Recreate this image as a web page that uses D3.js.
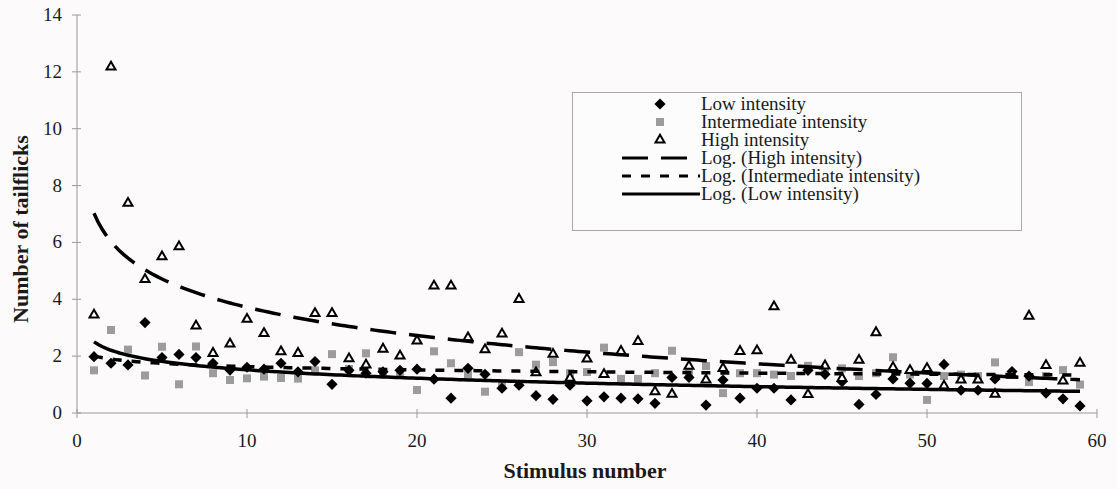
<!DOCTYPE html>
<html lang="en">

<head>
  <meta charset="UTF-8">
  <title>Tailflicks per stimulus</title>
  <script src="https://d3js.org/d3.v7.min.js"></script>
  <style>
    body {
      margin: 0;
      background: #fcfafa;
    }
  </style>
</head>

<body>
  <svg id="chart" width="1117" height="489" font-family="'Liberation Serif', 'Times New Roman', Tinos, 'DejaVu Serif', serif"></svg>

  <script>
    // stimulus numbers 1..59
    const stimulus = d3.range(1, 60);

    const lowIntensity = [
      1.98, 1.75, 1.69, 3.18, 1.95, 2.06, 1.95, 1.75, 1.51, 1.61,
      1.54, 1.75, 1.45, 1.81, 1.01, 1.5, 1.40, 1.45, 1.5, 1.54,
      1.19, 0.52, 1.57, 1.36, 0.87, 0.98, 0.61, 0.48, 0.98, 0.43,
      0.57, 0.52, 0.5, 0.34, 1.25, 1.25, 0.28, 1.16, 0.52, 0.87,
      0.87, 0.46, 1.5, 1.36, 1.1, 0.3, 0.65, 1.2, 1.05, 1.04,
      1.71, 0.8, 0.8, 1.2, 1.46, 1.3, 0.7, 0.5, 0.25
    ];

    const intermediateIntensity = [
      1.5, 2.92, 2.23, 1.32, 2.33, 1.01, 2.34, 1.4, 1.16, 1.22,
      1.28, 1.23, 1.21, 1.5, 2.07, 1.55, 2.1, 1.4, 1.4, 0.81,
      2.17, 1.75, 1.35, 0.75, 0.96, 2.14, 1.7, 1.79, 1.4, 1.44,
      2.3, 1.2, 1.2, 1.4, 2.19, 1.45, 1.65, 0.7, 1.4, 1.4,
      1.35, 1.3, 1.66, 1.55, 1.57, 1.3, 1.4, 1.96, 1.35, 0.46,
      1.3, 1.35, 1.3, 1.78, 1.35, 1.09, 1.3, 1.51, 1.0
    ];

    const highIntensity = [
      3.45, 12.17, 7.38, 4.7, 5.5, 5.85, 3.06, 2.1, 2.43, 3.3,
      2.8, 2.16, 2.1, 3.5, 3.5, 1.91, 1.69, 2.25, 2.01, 2.54,
      4.47, 4.47, 2.65, 2.23, 2.78, 4.0, 1.42, 2.07, 1.23, 1.9,
      1.36, 2.17, 2.52, 0.75, 0.66, 1.65, 1.16, 1.57, 2.17, 2.19,
      3.74, 1.86, 0.65, 1.66, 1.22, 1.86, 2.83, 1.6, 1.5, 1.57,
      0.95, 1.16, 1.16, 0.66, 1.33, 3.41, 1.67, 1.13, 1.75
    ];

    const xTicks = [0, 10, 20, 30, 40, 50, 60];
    const yTicks = [0, 2, 4, 6, 8, 10, 12, 14];

    const legendLabels = [
      "Low intensity",
      "Intermediate intensity",
      "High intensity",
      "Log. (High intensity)",
      "Log. (Intermediate intensity)",
      "Log. (Low intensity)"
    ];

    const svg = d3.select("#chart");

    const x = d3.scaleLinear().domain([0, 60]).range([77, 1097]);
    const y = d3.scaleLinear().domain([0, 14]).range([413, 15]);

    // excel style logarithmic trendline: y = a*ln(x) + b
    function logFit(xs, ys) {
      const lx = xs.map(v => Math.log(v));
      const mx = d3.mean(lx);
      const my = d3.mean(ys);
      let sxy = 0, sxx = 0;
      lx.forEach((v, i) => {
        sxy += (v - mx) * (ys[i] - my);
        sxx += (v - mx) * (v - mx);
      });
      const a = sxy / sxx;
      return { a: a, b: my - a * mx };
    }

    // axes
    const axisColor = "#9a9a9a";
    const textColor = "#1a1a1a";

    const yAxis = svg.append("g");
    yAxis.append("line")
      .attr("x1", x(0)).attr("x2", x(0))
      .attr("y1", y(0)).attr("y2", y(14))
      .attr("stroke", axisColor);
    yAxis.selectAll(".ytick")
      .data(yTicks)
      .enter()
      .append("line")
      .attr("x1", x(0) - 5).attr("x2", x(0) + 4)
      .attr("y1", d => y(d)).attr("y2", d => y(d))
      .attr("stroke", axisColor);
    yAxis.selectAll(".ylabel")
      .data(yTicks)
      .enter()
      .append("text")
      .attr("x", 62)
      .attr("y", d => y(d) + 6)
      .attr("text-anchor", "end")
      .attr("font-size", 19)
      .attr("fill", textColor)
      .text(d => d);

    const xAxis = svg.append("g");
    xAxis.append("line")
      .attr("x1", x(0)).attr("x2", x(60))
      .attr("y1", y(0)).attr("y2", y(0))
      .attr("stroke", axisColor);
    xAxis.selectAll(".xtick")
      .data(xTicks)
      .enter()
      .append("line")
      .attr("x1", d => x(d)).attr("x2", d => x(d))
      .attr("y1", y(0) - 4).attr("y2", y(0) + 5)
      .attr("stroke", axisColor);
    xAxis.selectAll(".xlabel")
      .data(xTicks)
      .enter()
      .append("text")
      .attr("x", d => x(d))
      .attr("y", 447)
      .attr("text-anchor", "middle")
      .attr("font-size", 19)
      .attr("fill", textColor)
      .text(d => d);

    svg.append("text")
      .attr("x", x(30) - 2)
      .attr("y", 478)
      .attr("text-anchor", "middle")
      .attr("font-size", 22)
      .attr("font-weight", "bold")
      .attr("fill", textColor)
      .text("Stimulus number");

    svg.append("text")
      .attr("transform", "translate(28,229) rotate(-90)")
      .attr("text-anchor", "middle")
      .attr("font-size", 22)
      .attr("font-weight", "bold")
      .attr("fill", textColor)
      .text("Number of tailflicks");

    // markers
    const diamond = d3.symbol().type(d3.symbolDiamond2).size(80);
    const triangle = d3.symbol().type(d3.symbolTriangle2).size(58);

    function drawLow(g, cx, cy) {
      g.append("path")
        .attr("d", diamond())
        .attr("transform", `translate(${cx},${cy})`)
        .attr("fill", "#000");
    }

    function drawIntermediate(g, cx, cy) {
      g.append("rect")
        .attr("x", cx - 4).attr("y", cy - 4)
        .attr("width", 8).attr("height", 8)
        .attr("fill", "#9c9c9c");
    }

    function drawHigh(g, cx, cy) {
      g.append("path")
        .attr("d", triangle())
        .attr("transform", `translate(${cx},${cy})`)
        .attr("fill", "#fff")
        .attr("stroke", "#000")
        .attr("stroke-width", 2)
        .attr("stroke-linejoin", "miter");
    }

    const points = svg.append("g");
    stimulus.forEach((s, i) => drawIntermediate(points, x(s), y(intermediateIntensity[i])));
    stimulus.forEach((s, i) => drawLow(points, x(s), y(lowIntensity[i])));
    stimulus.forEach((s, i) => drawHigh(points, x(s), y(highIntensity[i])));

    // trendlines
    const trendStyles = [
      { values: highIntensity, dash: "26,13" },
      { values: intermediateIntensity, dash: "9,10" },
      { values: lowIntensity, dash: null }
    ];

    const fine = d3.range(1, 59.01, 0.25);
    trendStyles.forEach(t => {
      const fit = logFit(stimulus, t.values);
      const line = d3.line()
        .x(d => x(d))
        .y(d => y(fit.a * Math.log(d) + fit.b));
      svg.append("path")
        .datum(fine)
        .attr("d", line)
        .attr("fill", "none")
        .attr("stroke", "#000")
        .attr("stroke-width", 3.5)
        .attr("stroke-dasharray", t.dash);
    });

    // legend
    const legend = svg.append("g");
    legend.append("rect")
      .attr("x", 572.5).attr("y", 92.5)
      .attr("width", 449).attr("height", 138)
      .attr("fill", "#fdfcfc")
      .attr("stroke", "#a8a8a8");

    const rowY = i => 104 + i * 18;
    drawLow(legend, 660, rowY(0));
    drawIntermediate(legend, 660, rowY(1));
    drawHigh(legend, 660, rowY(2));

    trendStyles.forEach((t, i) => {
      legend.append("line")
        .attr("x1", 622).attr("x2", 700)
        .attr("y1", rowY(3 + i)).attr("y2", rowY(3 + i))
        .attr("stroke", "#000")
        .attr("stroke-width", 3)
        .attr("stroke-dasharray", t.dash);
    });

    legend.selectAll(".legend-label")
      .data(legendLabels)
      .enter()
      .append("text")
      .attr("x", 701)
      .attr("y", (d, i) => rowY(i) + 6)
      .attr("font-size", 19)
      .attr("fill", textColor)
      .text(d => d);
  </script>
</body>

</html>
